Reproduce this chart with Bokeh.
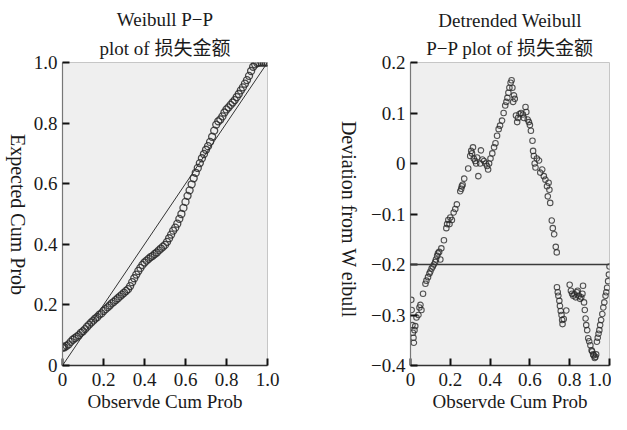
import math
from bokeh.plotting import figure
from bokeh.models import Range1d, FixedTicker, Span, Title, Label
from bokeh.layouts import row
from bokeh.embed import file_html
from bokeh.resources import INLINE

# ---------------- data ----------------
# Left panel: Weibull P-P plot (observed vs expected cumulative probability)
pp_observed = [0.000, 0.005, 0.010, 0.020, 0.030, 0.040, 0.050, 0.060, 0.070, 0.080,
               0.090, 0.100, 0.110, 0.120, 0.130, 0.140, 0.150, 0.160, 0.170, 0.180,
               0.190, 0.200, 0.210, 0.220, 0.230, 0.240, 0.250, 0.260, 0.270, 0.280,
               0.290, 0.300, 0.310, 0.320, 0.330, 0.340, 0.350, 0.360, 0.370, 0.380,
               0.390, 0.400, 0.410, 0.420, 0.430, 0.440, 0.450, 0.460, 0.470, 0.480,
               0.490, 0.500, 0.510, 0.520, 0.530, 0.540, 0.550, 0.560, 0.570, 0.580,
               0.590, 0.600, 0.610, 0.620, 0.630, 0.640, 0.650, 0.660, 0.670, 0.680,
               0.690, 0.700, 0.710, 0.720, 0.730, 0.740, 0.750, 0.760, 0.770, 0.780,
               0.790, 0.800, 0.810, 0.820, 0.830, 0.840, 0.850, 0.860, 0.870, 0.880,
               0.890, 0.900, 0.910, 0.920, 0.930, 0.940, 0.950, 0.960, 0.970, 0.980,
               0.990, 1.000]
pp_expected = [0.058, 0.062, 0.060, 0.065, 0.070, 0.078, 0.085, 0.090, 0.095, 0.100,
               0.108, 0.113, 0.120, 0.128, 0.135, 0.142, 0.148, 0.155, 0.160, 0.168,
               0.172, 0.180, 0.186, 0.192, 0.198, 0.205, 0.210, 0.216, 0.222, 0.228,
               0.234, 0.240, 0.246, 0.252, 0.262, 0.275, 0.288, 0.300, 0.312, 0.322,
               0.332, 0.340, 0.346, 0.352, 0.358, 0.362, 0.368, 0.373, 0.380, 0.386,
               0.392, 0.398, 0.408, 0.420, 0.432, 0.445, 0.455, 0.468, 0.484, 0.500,
               0.520, 0.540, 0.560, 0.578, 0.598, 0.618, 0.636, 0.652, 0.668, 0.684,
               0.698, 0.712, 0.724, 0.738, 0.755, 0.775, 0.795, 0.806, 0.812, 0.822,
               0.835, 0.845, 0.852, 0.860, 0.868, 0.876, 0.886, 0.896, 0.908, 0.918,
               0.930, 0.942, 0.956, 0.972, 0.986, 0.994, 0.998, 1.000, 1.000, 1.000,
               1.000, 1.000]
diag_x = [0.0, 1.0]
diag_y = [0.0, 1.0]

# Right panel: detrended Weibull P-P plot
dt_observed = [0.004, 0.006, 0.010, 0.012, 0.015, 0.017, 0.020, 0.024, 0.030, 0.040,
               0.045, 0.050, 0.055, 0.063, 0.075, 0.080, 0.088, 0.095, 0.100, 0.106,
               0.112, 0.118, 0.124, 0.128, 0.134, 0.138, 0.144, 0.150, 0.155, 0.168,
               0.180, 0.184, 0.190, 0.196, 0.200, 0.208, 0.217, 0.225, 0.233, 0.250,
               0.255, 0.258, 0.262, 0.270, 0.290, 0.300, 0.305, 0.309, 0.314, 0.318,
               0.325, 0.330, 0.335, 0.341, 0.350, 0.354, 0.362, 0.370, 0.378, 0.385,
               0.390, 0.395, 0.402, 0.411, 0.420, 0.427, 0.435, 0.443, 0.450, 0.460,
               0.468, 0.476, 0.482, 0.487, 0.492, 0.497, 0.503, 0.508, 0.512, 0.516,
               0.520, 0.524, 0.530, 0.536, 0.540, 0.548, 0.556, 0.565, 0.570, 0.578,
               0.582, 0.589, 0.595, 0.600, 0.605, 0.613, 0.616, 0.620, 0.624, 0.628,
               0.635, 0.646, 0.652, 0.662, 0.670, 0.678, 0.686, 0.690, 0.694, 0.698,
               0.702, 0.710, 0.715, 0.722, 0.730, 0.735, 0.736, 0.740, 0.743, 0.748,
               0.751, 0.755, 0.759, 0.762, 0.764, 0.770, 0.783, 0.800, 0.806, 0.812,
               0.818, 0.824, 0.830, 0.836, 0.840, 0.846, 0.852, 0.858, 0.864, 0.867,
               0.872, 0.876, 0.880, 0.883, 0.888, 0.893, 0.898, 0.904, 0.910, 0.913,
               0.918, 0.921, 0.926, 0.929, 0.933, 0.937, 0.941, 0.945, 0.949, 0.953,
               0.958, 0.964, 0.969, 0.974, 0.980, 0.984, 0.988, 0.993, 0.997, 1.000]
dt_deviation = [-0.270, -0.290, -0.320, -0.335, -0.345, -0.355, -0.330, -0.322, -0.305, -0.300,
                -0.285, -0.280, -0.290, -0.258, -0.238, -0.232, -0.225, -0.218, -0.214, -0.208,
                -0.204, -0.200, -0.195, -0.190, -0.183, -0.178, -0.175, -0.190, -0.168, -0.152,
                -0.128, -0.120, -0.112, -0.120, -0.107, -0.112, -0.097, -0.090, -0.081, -0.055,
                -0.050, -0.045, -0.042, -0.030, -0.010, 0.015, 0.025, 0.020, 0.032, 0.010,
                0.005, 0.000, 0.012, -0.025, 0.000, 0.026, 0.008, 0.005, 0.000, -0.005,
                -0.012, 0.000, 0.010, 0.020, 0.032, 0.040, 0.055, 0.068, 0.075, 0.085,
                0.100, 0.115, 0.122, 0.130, 0.140, 0.150, 0.160, 0.165, 0.150, 0.122,
                0.135, 0.128, 0.095, 0.082, 0.090, 0.098, 0.100, 0.097, 0.090, 0.112,
                0.102, 0.087, 0.082, 0.076, 0.065, 0.045, 0.025, 0.015, 0.000, -0.008,
                0.010, 0.006, -0.018, -0.012, -0.025, -0.032, -0.045, -0.065, -0.038, -0.052,
                -0.078, -0.113, -0.128, -0.140, -0.165, -0.176, -0.245, -0.255, -0.262, -0.272,
                -0.282, -0.292, -0.300, -0.310, -0.318, -0.308, -0.291, -0.240, -0.252, -0.258,
                -0.262, -0.259, -0.265, -0.255, -0.252, -0.262, -0.268, -0.265, -0.258, -0.242,
                -0.275, -0.290, -0.307, -0.320, -0.330, -0.346, -0.352, -0.360, -0.370, -0.372,
                -0.378, -0.380, -0.385, -0.383, -0.378, -0.353, -0.345, -0.337, -0.330, -0.320,
                -0.310, -0.298, -0.285, -0.275, -0.262, -0.255, -0.246, -0.233, -0.220, -0.204]
dt_reference = -0.2

# Ticks / labels
prob_ticks = [0.0, 0.2, 0.4, 0.6, 0.8, 1.0]
prob_tick_labels = ["0", "0.2", "0.4", "0.6", "0.8", "1.0"]
dev_ticks = [-0.4, -0.3, -0.2, -0.1, 0.0, 0.1, 0.2]
dev_tick_labels = ["\u22120.4", "\u22120.3", "\u22120.2", "\u22120.1", "0", "0.1", "0.2"]

left_title = ["Weibull P\u2212P", "plot of 损失金额"]
right_title = ["Detrended Weibull", "P\u2212P plot of 损失金额"]
x_label = "Observde Cum Prob"
left_y_label = "Expected Cum Prob"
right_y_label = "Deviation from W eibull"

# ---------------- styling ----------------
TFONT = "Liberation Serif, Noto Sans CJK SC, serif"
AFONT = "Liberation Serif"
FS = "19px"
BG = "#efefef"
INK = "#2b2b2b"
TXT = "#1a1a1a"
TOP, BOTTOM, HEIGHT = 62, 48, 414


def style(p, xt, xl, yt, yl):
    p.background_fill_color = BG
    p.border_fill_color = "white"
    p.outline_line_color = "#c6c6c6"
    p.outline_line_width = 1
    p.grid.visible = False
    for ax, t, l in ((p.xaxis[0], xt, xl), (p.yaxis[0], yt, yl)):
        ax.ticker = FixedTicker(ticks=t)
        ax.major_label_overrides = dict(zip(t, l))
        ax.minor_tick_line_color = None
        ax.major_tick_in = 7
        ax.major_tick_out = 0
        ax.major_tick_line_width = 2
        ax.major_tick_line_color = "#111111"
        ax.major_label_text_font = AFONT
        ax.major_label_text_font_size = FS
        ax.major_label_text_color = TXT
    xa, ya = p.xaxis[0], p.yaxis[0]
    xa.axis_label = x_label
    xa.axis_label_text_font = AFONT
    xa.axis_label_text_font_size = FS
    xa.axis_label_text_font_style = "normal"
    xa.axis_label_text_color = TXT
    xa.major_label_standoff = 7
    xa.axis_label_standoff = 2
    xa.axis_line_color = "#333333"
    xa.axis_line_width = 1.5
    ya.major_label_standoff = 5
    ya.axis_line_color = "#777777"
    ya.axis_line_width = 1.2


def add_titles(p, lines, inner_standoff):
    # first added sits closest to the frame
    for t, s in ((lines[1], inner_standoff), (lines[0], 4)):
        p.add_layout(Title(text=t, align="center", text_font=TFONT, text_font_size=FS,
                           text_font_style="normal", text_color=TXT,
                           standoff=s), "above")


def ylabel_strip(width, text, x, y):
    # the row aligns this strip's frame with the plot frames (TOP .. HEIGHT-BOTTOM)
    s = figure(width=width, height=HEIGHT, x_range=Range1d(0, 1), y_range=Range1d(0, 1),
               output_backend="svg", toolbar_location=None,
               x_axis_location=None, y_axis_location=None,
               min_border=0, min_border_left=0, min_border_right=0,
               min_border_top=TOP, min_border_bottom=BOTTOM)
    s.outline_line_color = None
    s.grid.visible = False
    s.background_fill_color = "white"
    s.border_fill_color = "white"
    s.add_layout(Label(x=x, y=y, x_units="screen", y_units="screen", text=text,
                       text_font=AFONT, text_font_size="20px", text_color=TXT,
                       text_align="center", text_baseline="middle", angle=-math.pi / 2))
    return s


frame_bottom = HEIGHT - BOTTOM

# ---------------- left plot ----------------
ylab1 = ylabel_strip(30, left_y_label, 17, frame_bottom - 215)
p1 = figure(width=304, height=HEIGHT, x_range=Range1d(0, 1), y_range=Range1d(0, 1),
            output_backend="svg", toolbar_location=None,
            min_border_left=32, min_border_right=67, min_border_top=TOP, min_border_bottom=BOTTOM)
style(p1, prob_ticks, prob_tick_labels, prob_ticks, prob_tick_labels)
add_titles(p1, left_title, 8)
p1.line(diag_x, diag_y, line_color="#333333", line_width=1)
p1.scatter(pp_observed, pp_expected, marker="circle", size=7, fill_color=None,
           line_color=INK, line_width=1.3, line_alpha=0.85)

# ---------------- right plot ----------------
ylab2 = ylabel_strip(26, right_y_label, 14, frame_bottom - 220)
p2 = figure(width=251, height=HEIGHT, x_range=Range1d(0, 1), y_range=Range1d(-0.4, 0.2),
            output_backend="svg", toolbar_location=None,
            min_border_left=50, min_border_right=2, min_border_top=TOP, min_border_bottom=BOTTOM)
style(p2, prob_ticks, prob_tick_labels, dev_ticks, dev_tick_labels)
add_titles(p2, right_title, 7)
p2.add_layout(Span(location=dt_reference, dimension="width", line_color="#3a3a3a", line_width=1.5))
p2.scatter(dt_observed, dt_deviation, marker="circle", size=5.5, fill_color=None,
           line_color=INK, line_width=1.1, line_alpha=0.8)

layout = row(ylab1, p1, ylab2, p2)
open("out.html", "w").write(file_html(layout, INLINE))
